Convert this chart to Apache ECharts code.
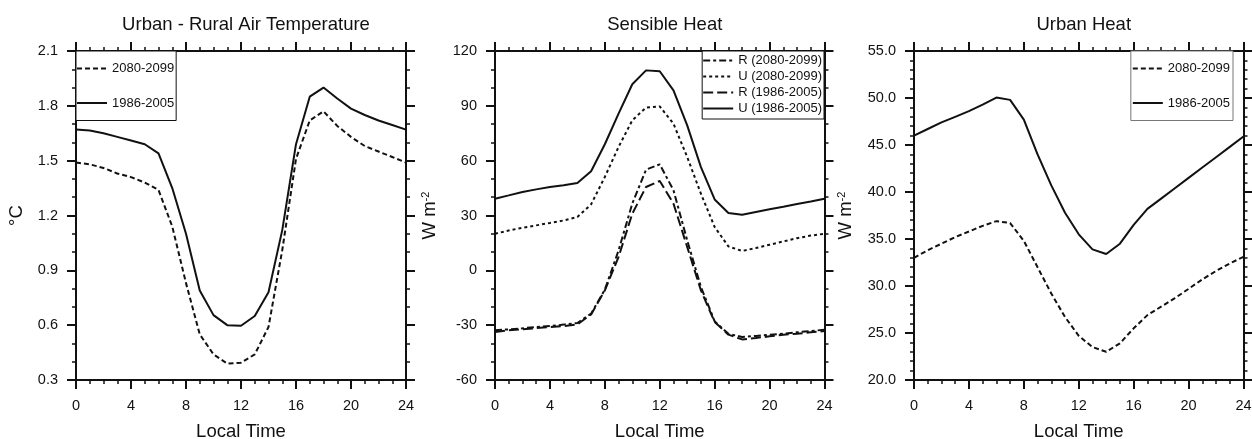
<!DOCTYPE html>
<html><head><meta charset="utf-8">
<script src="https://cdn.jsdelivr.net/npm/echarts@6/dist/echarts.min.js"></script>
<style>html,body{margin:0;padding:0;background:#fff}#c{width:1252px;height:439px}</style>
</head><body><div id="c"></div>
<script>
// ---- data ----
const hours = [0,1,2,3,4,5,6,7,8,9,10,11,12,13,14,15,16,17,18,19,20,21,22,23,24];
const panelTitles = ['Urban - Rural Air Temperature', 'Sensible Heat', 'Urban Heat'];
const xAxisName = 'Local Time';

// Panel 1: Urban - Rural air temperature (°C)
const tempFuture  = [1.49,1.48,1.46,1.43,1.41,1.38,1.34,1.14,0.83,0.55,0.44,0.39,0.395,0.44,0.59,1.01,1.51,1.72,1.77,1.69,1.63,1.58,1.55,1.52,1.49];
const tempPresent = [1.67,1.665,1.65,1.63,1.61,1.59,1.54,1.35,1.10,0.79,0.655,0.60,0.597,0.65,0.78,1.12,1.59,1.85,1.90,1.84,1.785,1.75,1.72,1.695,1.67];

// Panel 2: Sensible heat (W m-2)
const shRuralFuture  = [-32.8,-32.3,-31.7,-31,-30.5,-29.7,-28.8,-23.7,-10.6,10.9,36.5,55.1,58,43.8,16.4,-9.1,-27.9,-34.7,-36.5,-35.9,-35.2,-34.7,-33.9,-33.2,-32.5];
const shUrbanFuture  = [20,21.8,23.3,24.6,25.9,27.3,29.2,36.1,51.1,67.5,82.1,89,89.7,80.2,62,41.9,23.7,13.1,10.6,12.2,14,15.8,17.6,19,20];
const shRuralPresent = [-33.7,-32.8,-32.3,-31.6,-31,-30.5,-29.6,-24.1,-11,7.3,31,45.6,48.9,36.5,12.8,-11,-28.3,-35.2,-37.8,-37,-36.1,-35.2,-34.7,-33.9,-33.2];
const shUrbanPresent = [39.2,41,42.9,44.3,45.6,46.5,47.8,54.2,69,85.7,101.8,109.4,108.9,98.5,79.3,56.5,38.8,31.4,30.4,31.9,33.4,34.8,36.3,37.7,39.2];

// Panel 3: Urban heat (W m-2)
const uhFuture  = [33,33.8,34.5,35.2,35.8,36.4,36.9,36.7,34.8,32,29.2,26.7,24.7,23.5,23,23.9,25.5,26.9,27.8,28.7,29.7,30.7,31.6,32.4,33.1];
const uhPresent = [46,46.7,47.4,48,48.6,49.3,50.05,49.8,47.7,44,40.7,37.8,35.5,33.9,33.4,34.5,36.5,38.2,39.3,40.4,41.5,42.6,43.7,44.8,45.9];

// legend labels
const lblFuture = '2080-2099';
const lblPresent = '1986-2005';
const lblRF = 'R (2080-2099)', lblUF = 'U (2080-2099)', lblRP = 'R (1986-2005)', lblUP = 'U (1986-2005)';

// y axis ranges
const yRanges = [
  {min: 0.3, max: 2.1, interval: 0.3, split: 3, dec: 1, name: '°C'},
  {min: -60, max: 120, interval: 30, split: 3, dec: 0, name: 'W m{s|-2}'},
  {min: 20, max: 55, interval: 5, split: 5, dec: 1, name: 'W m{s|-2}'}
];

// ---- layout ----
const FONT = 'Liberation Sans, Arial, Helvetica, sans-serif';
const INK = '#111';
const grids = [
  {left: 76, top: 51, width: 330, height: 329, outerBoundsMode: 'none', containLabel: false},
  {left: 495, top: 51, width: 329.5, height: 329, outerBoundsMode: 'none', containLabel: false},
  {left: 914, top: 51, width: 329.5, height: 329, outerBoundsMode: 'none', containLabel: false}
];
const nameGaps = [50, 56, 59];

const pair = ys => hours.map((h, i) => [h, ys[i]]);

const xAxes = [], yAxes = [], titles = [];
grids.forEach((g, i) => {
  const tickCommon = {
    axisLine: {show: true, onZero: false, lineStyle: {color: INK, width: 2}},
    axisTick: {show: true, inside: false, length: 9, lineStyle: {color: INK, width: 2}},
    splitLine: {show: false}
  };
  xAxes.push(Object.assign({
    type: 'value', gridIndex: i, position: 'bottom', min: 0, max: 24, interval: 4,
    minorTick: {show: true, splitNumber: 4, length: 4, lineStyle: {color: INK, width: 1.5}},
    axisLabel: {color: INK, fontSize: 14.5, fontFamily: FONT, margin: 18},
    name: xAxisName, nameLocation: 'middle', nameGap: 42,
    nameTextStyle: {color: INK, fontSize: 18.5, fontFamily: FONT}
  }, tickCommon));
  xAxes.push(Object.assign({
    type: 'value', gridIndex: i, position: 'top', min: 0, max: 24, interval: 4,
    minorTick: {show: true, splitNumber: 4, length: 4, lineStyle: {color: INK, width: 1.5}},
    axisLabel: {show: false}
  }, tickCommon));
  const r = yRanges[i];
  yAxes.push(Object.assign({
    type: 'value', gridIndex: i, position: 'left', min: r.min, max: r.max, interval: r.interval,
    minorTick: {show: true, splitNumber: r.split, length: 4, lineStyle: {color: INK, width: 1.5}},
    axisLabel: {color: INK, fontSize: 14.5, fontFamily: FONT, margin: 18,
      formatter: v => Number(v).toFixed(r.dec)},
    name: r.name, nameLocation: 'middle', nameRotate: 90, nameGap: nameGaps[i],
    nameTextStyle: {color: INK, fontSize: 18.5, fontFamily: FONT,
      rich: {s: {fontSize: 11, fontFamily: FONT, color: INK, verticalAlign: 'top'}}}
  }, tickCommon));
  yAxes.push(Object.assign({
    type: 'value', gridIndex: i, position: 'right', min: r.min, max: r.max, interval: r.interval,
    minorTick: {show: true, splitNumber: r.split, length: 4, lineStyle: {color: INK, width: 1.5}},
    axisLabel: {show: false}
  }, tickCommon));
  titles.push({
    text: panelTitles[i], left: g.left + g.width / 2, top: 10, textAlign: 'center',
    textStyle: {color: INK, fontSize: 18.5, fontWeight: 'normal', fontFamily: FONT}
  });
});

function line(name, data, xi, yi, dash) {
  return {
    type: 'line', name: name, data: pair(data), xAxisIndex: xi, yAxisIndex: yi,
    symbol: 'none', showSymbol: false, smooth: false, silent: true, animation: false,
    lineStyle: {color: INK, width: 2, type: dash || 'solid'},
    itemStyle: {color: INK}
  };
}

const series = [
  line(lblFuture, tempFuture, 0, 0, [5, 3]),
  line(lblPresent, tempPresent, 0, 0),
  line(lblRF, shRuralFuture, 2, 2, [7, 3, 3, 3]),
  line(lblUF, shUrbanFuture, 2, 2, [3, 3]),
  line(lblRP, shRuralPresent, 2, 2, [10, 4]),
  line(lblUP, shUrbanPresent, 2, 2),
  line(lblFuture, uhFuture, 4, 4, [5, 3]),
  line(lblPresent, uhPresent, 4, 4)
];

const legendBase = {
  orient: 'vertical', itemWidth: 30, itemHeight: 14, selectedMode: false,
  textStyle: {color: INK, fontSize: 13, fontFamily: FONT},
  itemStyle: {opacity: 0}, borderWidth: 1, backgroundColor: '#fff'
};
const legends = [
  Object.assign({}, legendBase, {data: [lblFuture, lblPresent], left: 76, top: 51,
    itemGap: 21.5, padding: [11, 2, 11, 0], borderColor: INK}),
  Object.assign({}, legendBase, {data: [lblRF, lblUF, lblRP, lblUP], right: 428, top: 51,
    itemGap: 3, padding: [3, 2, 4, 0], borderColor: INK}),
  Object.assign({}, legendBase, {data: [lblFuture, lblPresent], right: 1252 - 1233, top: 51,
    itemGap: 21.5, padding: [11, 3, 11, 1], borderColor: '#777'})
];

const chart = echarts.init(document.getElementById('c'), null, {renderer: 'canvas'});
chart.setOption({
  animation: false,
  backgroundColor: '#fff',
  title: titles,
  grid: grids,
  xAxis: xAxes,
  yAxis: yAxes,
  legend: legends,
  series: series
});
</script></body></html>
